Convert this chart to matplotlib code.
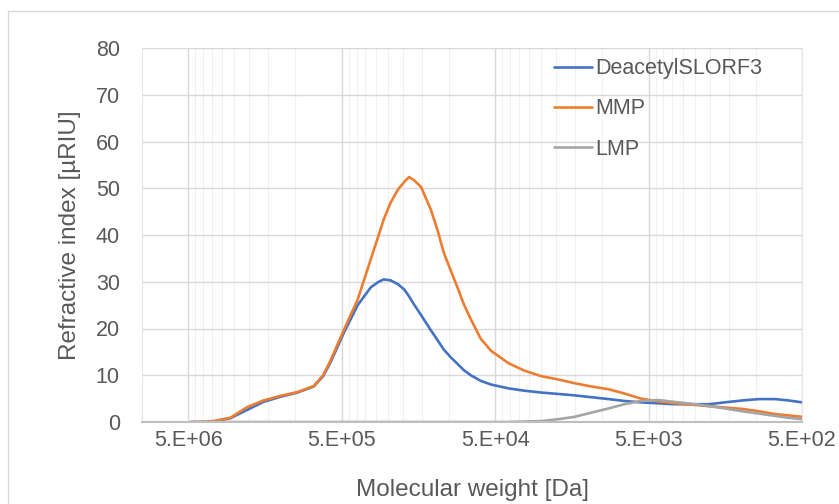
import numpy as np
import matplotlib
matplotlib.use("Agg")
import matplotlib.pyplot as plt
from matplotlib.ticker import FixedLocator, NullFormatter
from matplotlib.patches import Rectangle

plt.rcParams['font.family'] = ['Liberation Sans', 'DejaVu Sans']

# GPC elution profiles, molecular weight [Da] vs refractive index [uRIU]
mw = [4.8e6, 4.17e6, 3.43e6, 2.66e6, 2.06e6, 1.62e6, 1.25e6, 9.7e5, 7.6e5, 6.6e5,
      5.9e5, 4.85e5, 3.93e5, 3.23e5, 2.9e5, 2.66e5, 2.4e5, 2.15e5, 1.95e5, 1.82e5,
      1.7e5, 1.52e5, 1.31e5, 1.18e5, 1.08e5, 9.7e4, 8.7e4, 8.0e4, 7.2e4, 6.2e4,
      5.3e4, 4.1e4, 3.23e4, 2.5e4, 1.94e4, 1.52e4, 1.18e4, 9.1e3, 7.2e3, 5.6e3,
      4.3e3, 3.4e3, 2.6e3, 2.03e3, 1.59e3, 1.23e3, 955, 750, 608, 500]

deacetyl = [0, 0, 0.1, 0.8, 2.6, 4.3, 5.4, 6.3, 7.6, 9.8,
            12.8, 19.0, 25.0, 28.8, 29.9, 30.5, 30.3, 29.5, 28.3, 26.9,
            25.3, 22.9, 19.6, 17.4, 15.5, 13.8, 12.3, 11.1, 10.0, 8.8,
            8.0, 7.2, 6.7, 6.3, 6.0, 5.7, 5.3, 4.9, 4.5, 4.2,
            4.0, 3.8, 3.8, 3.8, 4.2, 4.6, 4.9, 4.9, 4.6, 4.2]

mmp = [0, 0, 0.2, 0.9, 3.2, 4.6, 5.6, 6.4, 7.7, 10.0,
       13.2, 19.6, 26.2, 34.8, 39.5, 43.3, 46.9, 49.7, 51.4, 52.4,
       51.8, 50.3, 45.4, 40.8, 36.2, 32.3, 28.4, 25.2, 22.0, 17.8,
       15.2, 12.6, 11.0, 9.8, 9.1, 8.3, 7.6, 7.0, 6.1, 5.0,
       4.4, 4.0, 3.7, 3.4, 3.1, 2.8, 2.3, 1.7, 1.4, 1.1]

lmp = [0, 0, 0, 0, 0, 0, 0, 0, 0, 0,
       0, 0, 0, 0, 0, 0, 0, 0, 0, 0,
       0, 0, 0, 0, 0, 0, 0, 0, 0, 0,
       0, 0, 0.1, 0.2, 0.6, 1.1, 2.0, 2.9, 3.8, 4.5,
       4.7, 4.3, 3.9, 3.4, 2.9, 2.3, 1.8, 1.3, 0.9, 0.6]

series = ['DeacetylSLORF3', 'MMP', 'LMP']
colors = ['#4472C4', '#ED7D31', '#A5A5A5']

major_ticks = [5e6, 5e5, 5e4, 5e3, 5e2]
major_labels = ['5.E+06', '5.E+05', '5.E+04', '5.E+03', '5.E+02']

text_color = '#595959'

fig = plt.figure(figsize=(8.39, 5.04), dpi=100)
fig.patch.set_facecolor('white')

# chart area border
fig.patches.append(Rectangle((8 / 839, -0.1), 1.2, 1.1 - 11 / 504,
                             transform=fig.transFigure, fill=False,
                             edgecolor='#d9d9d9', linewidth=1.0))

ax = fig.add_axes([142 / 839, 1 - 422 / 504, 660 / 839, 374 / 504])

for vals, name, c in zip([deacetyl, mmp, lmp], series, colors):
    ax.plot(mw, vals, color=c, linewidth=1.9, label=name,
            solid_capstyle='round', solid_joinstyle='round')

ax.set_xscale('log')
ax.set_xlim(1e7, 5e2)
ax.set_ylim(0, 80)

# minor grid at multiples of each lower decade value, like Excel's log axis
minor = []
for lo in [5e5, 5e4, 5e3, 5e2]:
    minor += [lo * m for m in range(2, 10)]
ax.xaxis.set_major_locator(FixedLocator(major_ticks))
ax.xaxis.set_minor_locator(FixedLocator(minor))
ax.set_xticks(major_ticks)
ax.set_xticklabels(major_labels)
ax.xaxis.set_minor_formatter(NullFormatter())
ax.set_yticks(np.arange(0, 81, 10))

ax.grid(True, which='major', axis='both', color='#d9d9d9', linewidth=1.0)
ax.grid(True, which='minor', axis='x', color='#f0f0f0', linewidth=0.8)
ax.set_axisbelow(True)

ax.tick_params(axis='both', which='both', length=0, colors=text_color, labelsize=15.5)
ax.tick_params(axis='y', pad=16)
ax.tick_params(axis='x', pad=6)

for side in ['left', 'right', 'top']:
    ax.spines[side].set_color('#e6e6e6')
    ax.spines[side].set_linewidth(0.8)
ax.spines['top'].set_visible(False)
ax.spines['bottom'].set_color('#bfbfbf')
ax.spines['bottom'].set_linewidth(1.5)

ax.set_xlabel('Molecular weight [Da]', fontsize=17.5, color=text_color)
ax.set_ylabel('Refractive index [µRIU]', fontsize=17.5, color=text_color)
ax.xaxis.set_label_coords(0.5, -0.152)
ax.yaxis.set_label_coords(-0.092, 0.5)

leg = ax.legend(loc='upper right', bbox_to_anchor=(0.953, 0.996), frameon=False,
                fontsize=15.5, handlelength=1.75, handletextpad=0.15,
                labelspacing=0.9, borderaxespad=0.0)
for t in leg.get_texts():
    t.set_color(text_color)

fig.savefig('out.png', dpi=100, facecolor='white')
